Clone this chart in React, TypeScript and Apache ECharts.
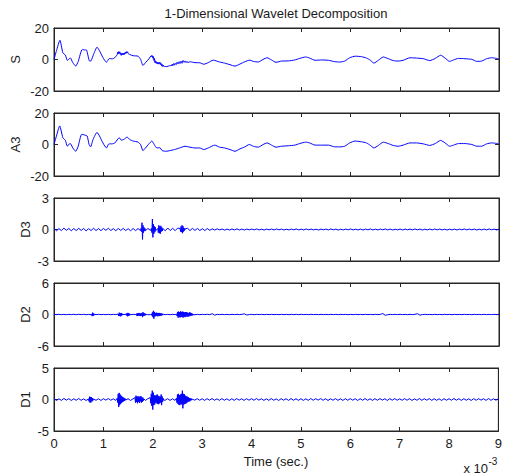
import React, { useEffect, useRef } from "react";
import * as echarts from "echarts";

// ---- data (time in units of 1e-3 s) ----
const xTickLabels = ["0", "1", "2", "3", "4", "5", "6", "7", "8", "9"];
const panelNames = ["S", "A3", "D3", "D2", "D1"];
const panelLimits = [20, 20, 3, 6, 5];

// Approximation A3 : [t, value]
const a3Points: number[][] = [
  [0, 0], [0.05, 5.4], [0.115, 11.8], [0.18, 4.3], [0.23, 2.6], [0.27, -1.1], [0.32, 0.6], [0.34, 0.4],
  [0.38, -2.2], [0.44, -4.3], [0.49, -1], [0.56, 6.5], [0.62, 6], [0.67, 5.4], [0.71, 0], [0.74, -1.5],
  [0.79, 3.2], [0.87, 7.7], [0.92, 5.4], [0.99, 1], [1.06, -2.2], [1.11, 0.4], [1.17, 0.4], [1.23, 1],
  [1.32, 4.3], [1.36, 2.8], [1.41, 3.2], [1.48, 4.7], [1.53, 3.2], [1.6, 2.2], [1.7, 1.5], [1.75, 0],
  [1.8, -3.9], [1.85, -2.2], [1.92, 0.4], [1.98, 2.2], [2.02, 0.4], [2.06, -1.7], [2.1, -2.2], [2.14, -2],
  [2.19, -3.9], [2.27, -4.3], [2.34, -3.9], [2.44, -3.2], [2.54, -2.2], [2.65, -1.1], [2.75, -1.7],
  [2.85, -2.2], [2.95, -2.2], [3.03, -3.2], [3.12, -2.2], [3.25, -0.4], [3.35, -1.7], [3.45, -2.2],
  [3.56, -3.2], [3.66, -4.3], [3.76, -2.8], [3.86, -1.5], [3.95, 0], [4.03, -1.1], [4.13, -1.7], [4.23, 0],
  [4.31, 1], [4.4, -0.4], [4.49, -1.7], [4.6, -1.1], [4.74, -0.8], [4.87, -0.4], [4.97, 0.6], [5.09, 1.5],
  [5.17, 1], [5.28, -0.4], [5.41, -0.4], [5.55, -0.4], [5.68, -1.5], [5.78, -1.5], [5.88, -1.1], [5.98, 1],
  [6.09, 2.2], [6.22, 1.7], [6.32, 1], [6.4, -0.6], [6.47, -2.2], [6.56, -0.6], [6.66, 1.5], [6.76, 0.6],
  [6.86, -0.6], [6.96, -1.1], [7.06, -0.4], [7.2, 1], [7.33, 1], [7.47, 0.4], [7.6, -0.6], [7.71, 0.6],
  [7.82, 2.6], [7.91, 1], [8.0, -1.1], [8.08, -0.4], [8.18, 0.6], [8.31, 0.6], [8.45, 0], [8.55, -1.1],
  [8.65, -1.1], [8.75, 0.4], [8.85, 1], [8.99, 0.6],
];

// Signal S : smooth part [t, value]
const sBasePoints: number[][] = [
  [0, 0], [0.05, 5.6], [0.12, 12.2], [0.18, 4.2], [0.23, 2.8], [0.27, -0.6], [0.33, 1], [0.38, -2.0],
  [0.44, -4.2], [0.49, -1.2], [0.57, 6.3], [0.62, 6.1], [0.66, 5.9], [0.72, -1], [0.75, -0.8], [0.8, 3.2],
  [0.87, 7.8], [0.92, 5.6], [0.99, 1.2], [1.06, -1.7], [1.12, 0.6], [1.18, 0.4], [1.23, 1.2], [1.28, 3.2],
  [1.5, 3.8], [1.53, 3.2], [1.6, 2.4], [1.7, 2.1], [1.75, 0.2], [1.8, -3.8], [1.85, -2.0], [1.92, 0.4],
  [1.97, 2.5], [2.22, -4.3], [2.28, -4.5], [2.34, -3.9], [2.38, -3.8], [2.76, -1.5], [2.85, -2.0],
  [2.95, -2.1], [3.03, -3.0], [3.12, -2.0], [3.22, -0.4], [3.35, -1.6], [3.45, -2.3], [3.56, -3.3],
  [3.66, -4.2], [3.76, -2.9], [3.86, -1.4], [3.96, -0.4], [4.03, -1.2], [4.13, -1.6], [4.23, 0.1],
  [4.31, 1.1], [4.4, -0.3], [4.49, -1.8], [4.6, -1.0], [4.74, -0.9], [4.87, -0.3], [4.97, 0.7], [5.09, 1.6],
  [5.17, 0.9], [5.28, -0.5], [5.41, -0.3], [5.55, -0.5], [5.68, -1.4], [5.78, -1.6], [5.88, -1.0],
  [5.98, 1.1], [6.09, 2.1], [6.22, 1.8], [6.32, 0.9], [6.4, -0.5], [6.47, -2.3], [6.56, -0.5], [6.66, 1.6],
  [6.76, 0.5], [6.86, -0.7], [6.96, -1.0], [7.06, -0.5], [7.2, 1.1], [7.33, 0.9], [7.47, 0.5], [7.6, -0.7],
  [7.71, 0.7], [7.82, 2.7], [7.91, 0.9], [8.0, -1.2], [8.08, -0.3], [8.18, 0.7], [8.31, 0.5], [8.45, 0.1],
  [8.55, -1.2], [8.65, -1.0], [8.75, 0.5], [8.85, 1.1], [8.99, 0.5],
];
// Signal S : noisy stretches (step 0.01)
const sNoise1Start = 1.29;
const sNoise1 = [4.8, 3.5, 5.0, 3.9, 4.9, 3.3, 4.2, 2.6, 3.8, 2.9, 4.1, 3.0, 3.9, 3.1, 4.3, 3.6, 4.8, 3.9, 5.0, 4.2, 4.9];
const sNoise2Start = 1.98;
const sNoise2 = [1.6, 2.4, 0.8, 1.9, -0.6, 0.8, -1.9, -0.8, -2.3, -1.4, -2.6, -1.7, -2.8, -1.9, -3.0, -1.8, -2.7, -2.0, -3.4, -2.6, -4.2, -3.2, -4.4, -3.5];
const sNoise3Start = 2.39;
const sNoise3 = [-2.9, -3.9, -3.2, -2.6, -3.7, -3.6, -2.4, -2.2, -3.3, -3.3, -1.7, -1.7, -2.9, -2.9, -1.4, -1.4, -2.6, -2.6, -1.0, -1.0, -2.4, -2.4, -0.6, -0.6, -1.8, -1.8, -0.9, -0.9, -2.0, -2.0, -1.2, -1.2, -2.1, -2.1, -1.5, -1.6];

// Detail D3 : base samples every 0.05, bursts every 0.01
const d3Base = [
  0.1, -0.12, 0.08, -0.1, 0.13, -0.08, 0.1, -0.12, 0.09, -0.1, 0.11, -0.09, 0.1, -0.13, 0.08, -0.1, 0.12, -0.1, 0.09, -0.11,
  0.1, -0.08, 0.12, -0.1, 0.09, -0.12, 0.1, -0.09, 0.11, -0.1, 0.08, -0.12, 0.1, -0.11, 0.09, -0.1, 0.1, -0.12, 0.1, -0.09,
  0.1, -0.12, 0.11, -0.1, 0.1, -0.12, 0.14, -0.1, 0.12, -0.11, 0.13, -0.12, 0.1, -0.14, 0.12, -0.1, 0.11, -0.09, 0.1, -0.1,
  0.08, -0.1, 0.09, -0.08, 0.06, -0.05, 0.06, -0.04, 0.05, -0.06, 0.04, -0.05, 0.05, -0.04, 0.06, -0.05, 0.04, -0.05, 0.04, -0.03,
  0.04, -0.03, 0.05, -0.04, 0.03, -0.05, 0.04, -0.03, 0.04, -0.04, 0.05, -0.03, 0.04, -0.05, 0.03, -0.04, 0.04, -0.03, 0.05, -0.04,
  0.03, -0.04, 0.05, -0.03, 0.04, -0.04, 0.03, -0.05, 0.04, -0.03, 0.04, -0.04, 0.05, -0.03, 0.04, -0.05, 0.03, -0.04, 0.04, -0.03,
  0.05, -0.04, 0.03, -0.04, 0.04, -0.05, 0.04, -0.03, 0.05, -0.04, 0.03, -0.04, 0.04, -0.03, 0.05, -0.04, 0.04, -0.05, 0.03, -0.04,
  0.04, -0.05, 0.04, -0.03, 0.04, -0.04, 0.05, -0.03, 0.04, -0.05, 0.03, -0.04, 0.04, -0.04, 0.05, -0.03, 0.04, -0.04, 0.03, -0.05,
  0.03, -0.04, 0.04, -0.05, 0.04, -0.03, 0.05, -0.04, 0.04, -0.03, 0.04, -0.05, 0.03, -0.04, 0.04, -0.04, 0.05, -0.03, 0.04, -0.04,
  0.02,
];
const d3Bursts = [
  { start: 1.76, values: [0.1, -0.2, 0.65, -0.95, 0.4, -0.3, 0.2, -0.15, 0.1] },
  { start: 1.97, values: [0.1, -0.3, 1.0, -0.75, 0.5, -0.4, 0.3, -0.25, 0.2, -0.1] },
  { start: 2.1, values: [0.1, -0.3, 0.4, -0.35, 0.3, -0.4, 0.35, -0.2, 0.2, -0.15, 0.1] },
  { start: 2.55, values: [0.1, -0.2, 0.3, -0.25, 0.4, -0.35, 0.3, -0.2, 0.15, -0.1, 0.05] },
];

// Detail D2
const d2Base = [
  0.03, -0.02, 0.04, -0.03, 0.02, -0.04, 0.03, -0.02, 0.03, -0.03, 0.04, -0.02, 0.03, -0.04, 0.02, -0.03, 0.03, -0.02, 0.04, -0.03,
  0.02, -0.03, 0.03, -0.04, 0.03, -0.02, 0.04, -0.03, 0.03, -0.04, 0.02, -0.03, 0.04, -0.02, 0.03, -0.03, 0.02, -0.04, 0.03, -0.02,
  0.03, -0.04, 0.02, -0.03, 0.04, -0.03, 0.02, -0.03, 0.03, -0.02, 0.04, -0.03, 0.03, -0.02, 0.02, -0.04, 0.03, -0.03, 0.02, -0.03,
  0.03, -0.02, 0.04, -0.03, 0.15, -0.12, 0.03, -0.02, 0.03, -0.03, 0.02, -0.03, 0.03, -0.02, 0.03, -0.03, 0.04, 0.12, -0.1, -0.02,
  0.02, -0.03, 0.03, -0.02, 0.03, -0.03, 0.02, -0.02, 0.03, -0.03, 0.02, -0.03, 0.03, -0.02, 0.02, -0.03, 0.03, -0.02, 0.03, -0.02,
  0.03, -0.02, 0.02, -0.03, 0.03, -0.02, 0.02, -0.03, 0.03, -0.02, 0.02, -0.03, 0.03, -0.02, 0.02, -0.03, 0.03, -0.02, 0.02, -0.03,
  0.02, -0.03, 0.03, -0.02, 0.02, -0.03, 0.03, -0.02, 0.02, -0.03, 0.03, -0.02, 0.03, 0.18, -0.15, -0.03, 0.02, -0.02, 0.03, -0.02,
  0.03, -0.02, 0.02, -0.03, 0.03, -0.02, 0.03, 0.15, -0.12, -0.02, 0.03, -0.02, 0.02, -0.03, 0.03, -0.02, 0.02, -0.03, 0.03, -0.02,
  0.02, -0.03, 0.03, -0.02, 0.02, -0.03, 0.03, -0.02, 0.02, -0.03, 0.03, -0.02, 0.02, -0.03, 0.03, -0.02, 0.02, -0.03, 0.03, -0.02,
  0.02,
];
const d2Bursts = [
  { start: 0.76, values: [0.1, -0.3, 0.35, -0.3, 0.2, -0.15, 0.05] },
  { start: 1.3, values: [0.1, -0.3, 0.35, -0.3, 0.25, -0.35, 0.3, -0.2, 0.15, -0.1, 0.1, -0.1, 0.1, -0.05, 0.1, -0.1, 0.15, -0.2, 0.3, -0.35, 0.3, -0.25, 0.2, -0.15, 0.1, -0.05] },
  { start: 1.66, values: [0.1, -0.2, 0.25, -0.3, 0.25, -0.2, 0.3, -0.25, 0.2, -0.3, 0.25, -0.2, 0.3, -0.5, 0.45, -0.3, 0.25, -0.2, 0.2, -0.15, 0.1, -0.1, 0.05, -0.05, 0.02] },
  { start: 1.97, values: [0.1, -0.2, 0.4, -0.5, 0.7, -0.8, 0.5, -0.4, 0.3, -0.3, 0.35, -0.3, 0.3, -0.35, 0.3, -0.25, 0.3, -0.3, 0.25, -0.2, 0.2, -0.2, 0.15, -0.1, 0.05, -0.02] },
  { start: 2.48, values: [0.1, -0.3, 0.5, -0.6, 0.55, -0.5, 0.45, -0.55, 0.6, -0.5, 0.5, -0.45, 0.55, -0.6, 0.5, -0.45, 0.4, -0.5, 0.45, -0.4, 0.45, -0.4, 0.35, -0.4, 0.3, -0.35, 0.4, -0.3, 0.35, -0.25, 0.25, -0.2, 0.15, -0.15, 0.1, -0.05, 0.02] },
];

// Detail D1
const d1Base = [
  0.12, -0.15, 0.1, -0.14, 0.16, -0.1, 0.13, -0.15, 0.11, -0.12, 0.15, -0.13, 0.1, -0.16, 0.12, -0.11, 0.14, -0.13, 0.12, -0.15,
  0.13, -0.1, 0.15, -0.12, 0.11, -0.14, 0.12, -0.13, 0.15, -0.11, 0.12, -0.15, 0.1, -0.13, 0.14, -0.12, 0.11, -0.15, 0.13, -0.12,
  0.14, -0.16, 0.12, -0.13, 0.15, -0.12, 0.13, -0.14, 0.12, -0.15, 0.16, -0.13, 0.14, -0.12, 0.13, -0.15, 0.12, -0.1, 0.13, -0.12,
  0.12, -0.14, 0.13, -0.11, 0.15, -0.12, 0.1, -0.13, 0.14, -0.12, 0.11, -0.15, 0.12, -0.13, 0.14, -0.1, 0.12, -0.14, 0.13, -0.11,
  0.13, -0.12, 0.15, -0.1, 0.12, -0.14, 0.11, -0.13, 0.14, -0.12, 0.1, -0.15, 0.13, -0.11, 0.12, -0.14, 0.15, -0.12, 0.11, -0.13,
  0.12, -0.14, 0.11, -0.13, 0.15, -0.12, 0.13, -0.1, 0.14, -0.13, 0.12, -0.15, 0.11, -0.12, 0.14, -0.13, 0.1, -0.14, 0.13, -0.12,
  0.14, -0.11, 0.13, -0.15, 0.12, -0.12, 0.15, -0.13, 0.11, -0.14, 0.13, -0.12, 0.14, -0.1, 0.12, -0.15, 0.13, -0.11, 0.14, -0.12,
  0.11, -0.13, 0.14, -0.12, 0.13, -0.15, 0.1, -0.12, 0.15, -0.13, 0.12, -0.11, 0.14, -0.14, 0.12, -0.13, 0.11, -0.15, 0.13, -0.12,
  0.13, -0.12, 0.15, -0.11, 0.12, -0.14, 0.13, -0.12, 0.11, -0.15, 0.14, -0.12, 0.13, -0.1, 0.12, -0.14, 0.15, -0.13, 0.12, -0.11,
  0.1,
];
const d1Bursts = [
  { start: 0.7, values: [0.1, -0.3, 0.45, -0.5, 0.4, -0.45, 0.35, -0.3, 0.2, -0.15, 0.1] },
  { start: 1.28, values: [0.2, -0.5, 0.9, -1.2, 1.05, -0.9, 0.8, -0.7, 0.6, -0.55, 0.45, -0.4, 0.35, -0.3, 0.25, -0.2, 0.15, -0.1] },
  { start: 1.64, values: [0.3, -0.5, 0.6, -0.4, 0.5, -0.6, 0.45, -0.35, 0.5, -0.55, 0.4, -0.3, 0.55, -0.5, 0.35, -0.4, 0.3, -0.2, 0.1] },
  { start: 1.95, values: [0.3, -0.6, 0.9, -1.0, 1.4, -1.6, 1.1, -0.9, 0.7, -0.8, 0.6, -0.5, 0.7, -0.6, 0.8, -0.7, 0.6, -0.75, 0.5, -0.6, 0.45, -0.5, 0.8, -0.9, 0.5, -0.4, 0.2, -0.1] },
  { start: 2.48, values: [0.2, -0.5, 0.8, -0.7, 0.9, -0.85, 0.7, -0.9, 0.8, -0.7, 0.9, -0.8, 1.4, -1.4, 0.9, -0.8, 0.85, -0.7, 0.6, -0.65, 0.5, -0.55, 0.45, -0.4, 0.35, -0.3, 0.25, -0.3, 0.2, -0.15, 0.15, -0.1, 0.05] },
];

type Burst = { start: number; values: number[] };

function mergeSeries(base: number[][], bursts: Burst[]): number[][] {
  const inBurst = (t: number) =>
    bursts.some((b) => t >= b.start - 1e-9 && t <= b.start + (b.values.length - 1) * 0.01 + 1e-9);
  const pts: number[][] = base.filter((p) => !inBurst(p[0]));
  bursts.forEach((b) =>
    b.values.forEach((v, j) => pts.push([Math.round((b.start + j * 0.01) * 1000) / 1000, v]))
  );
  pts.sort((a, b) => a[0] - b[0]);
  return pts;
}

function sampled(values: number[]): number[][] {
  return values.map((v, i) => [Math.round(i * 5) / 100, v]);
}

const FONT = "'Liberation Sans', Arial, Helvetica, sans-serif";
const TEXT = "#1a1a1a";
const AXIS = "#262626";

export default function App() {
  const ref = useRef<HTMLDivElement>(null);

  useEffect(() => {
    if (!ref.current) return;
    const chart = echarts.init(ref.current, undefined, { renderer: "svg" });

    const sPoints = mergeSeries(sBasePoints, [
      { start: sNoise1Start, values: sNoise1 },
      { start: sNoise2Start, values: sNoise2 },
      { start: sNoise3Start, values: sNoise3 },
    ]);
    const seriesData = [
      sPoints,
      a3Points,
      mergeSeries(sampled(d3Base), d3Bursts),
      mergeSeries(sampled(d2Base), d2Bursts),
      mergeSeries(sampled(d1Base), d1Bursts),
    ];

    const tops = [28, 113, 198, 283, 368];
    const grids: any[] = [];
    const xAxes: any[] = [];
    const yAxes: any[] = [];
    const series: any[] = [];

    tops.forEach((top, i) => {
      grids.push({
        left: 54,
        right: 6,
        top,
        height: 63,
        show: true,
        borderColor: AXIS,
        borderWidth: 1,
        backgroundColor: "transparent",
      });
      const isLast = i === tops.length - 1;
      const baseX = {
        type: "value",
        gridIndex: i,
        min: 0,
        max: 9,
        interval: 1,
        axisLine: { show: true, onZero: false, lineStyle: { color: AXIS, width: 1 } },
        axisTick: { show: true, inside: true, length: 4, lineStyle: { color: AXIS } },
        splitLine: { show: false },
      };
      xAxes.push({
        ...baseX,
        position: "bottom",
        axisLabel: {
          show: isLast,
          color: TEXT,
          fontSize: 13,
          fontFamily: FONT,
          margin: 6,
          formatter: (v: number) => xTickLabels[Math.round(v)] ?? "",
        },
      });
      xAxes.push({ ...baseX, position: "top", axisLabel: { show: false } });

      const lim = panelLimits[i];
      const baseY = {
        type: "value",
        gridIndex: i,
        min: -lim,
        max: lim,
        interval: lim,
        axisLine: { show: true, onZero: false, lineStyle: { color: AXIS, width: 1 } },
        axisTick: { show: true, inside: true, length: 4, lineStyle: { color: AXIS } },
        splitLine: { show: false },
      };
      yAxes.push({
        ...baseY,
        position: "left",
        name: panelNames[i],
        nameLocation: "middle",
        nameMoveOverlap: false,
        nameGap: lim >= 10 ? 32 : 22,
        nameTextStyle: { color: TEXT, fontSize: 13, fontFamily: FONT },
        axisLabel: { show: true, color: TEXT, fontSize: 13, fontFamily: FONT, margin: 5 },
      });
      yAxes.push({ ...baseY, position: "right", axisLabel: { show: false } });

      series.push({
        type: "line",
        xAxisIndex: i * 2,
        yAxisIndex: i * 2,
        data: seriesData[i],
        showSymbol: false,
        smooth: i < 2 ? 0.2 : false,
        lineStyle: { color: "#0000ff", width: 1 },
        z: 3,
      });
    });

    chart.setOption({
      animation: false,
      backgroundColor: "#ffffff",
      grid: grids,
      xAxis: xAxes,
      yAxis: yAxes,
      series,
      graphic: [
        {
          type: "text",
          x: 276,
          y: 13,
          style: {
            text: "1-Dimensional Wavelet Decomposition",
            fill: TEXT,
            font: `13px ${FONT}`,
            textAlign: "center",
            textVerticalAlign: "middle",
          },
        },
        {
          type: "text",
          x: 276,
          y: 461,
          style: {
            text: "Time (sec.)",
            fill: TEXT,
            font: `13px ${FONT}`,
            textAlign: "center",
            textVerticalAlign: "middle",
          },
        },
        {
          type: "text",
          x: 488,
          y: 468,
          style: {
            text: "x 10",
            fill: TEXT,
            font: `13px ${FONT}`,
            textAlign: "right",
            textVerticalAlign: "middle",
          },
        },
        {
          type: "text",
          x: 488.5,
          y: 461,
          style: {
            text: "-3",
            fill: TEXT,
            font: `10px ${FONT}`,
            textAlign: "left",
            textVerticalAlign: "middle",
          },
        },
      ],
    });

    return () => chart.dispose();
  }, []);

  return (
    <div
      ref={ref}
      style={{ position: "fixed", left: 0, top: 0, width: 505, height: 476, background: "#fff" }}
    />
  );
}
